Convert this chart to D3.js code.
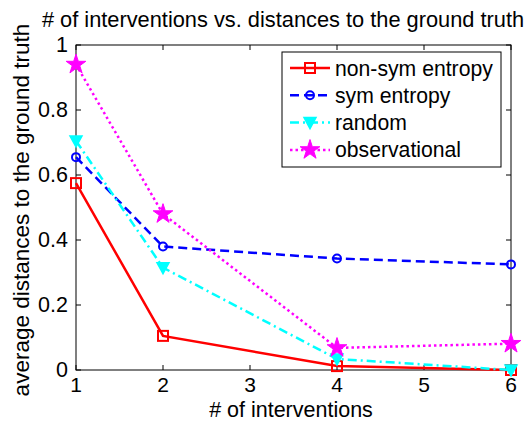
<!DOCTYPE html>
<html>
<head>
<script src="https://d3js.org/d3.v7.min.js"></script>
<style>
  body { margin: 0; background: #fff; }
  text { font-family: "Liberation Sans", Arial, sans-serif; fill: #000; }
</style>
</head>
<body>
<svg width="531" height="421"></svg>
<script>
// chart values
const xs = [1, 2, 4, 6];
const nonSym = [0.575, 0.105, 0.012, 0.0];
const symEnt = [0.655, 0.38, 0.343, 0.325];
const randomV = [0.705, 0.315, 0.034, 0.0];
const observ = [0.94, 0.48, 0.068, 0.081];
const xTicks = [1, 2, 3, 4, 5, 6];
const yTicks = [0, 0.2, 0.4, 0.6, 0.8, 1];

const series = [
  {name: "non-sym entropy", vals: nonSym, color: "#ff0000", dash: null, marker: "square"},
  {name: "sym entropy", vals: symEnt, color: "#0000ff", dash: "9,5", marker: "circle"},
  {name: "random", vals: randomV, color: "#00ffff", dash: "9,4,2,4", marker: "tri"},
  {name: "observational", vals: observ, color: "#ff00ff", dash: "2.5,3", marker: "star"}
];

const svg = d3.select("svg");
const pLeft = 76, pRight = 511, pTop = 45, pBottom = 370;

const x = d3.scaleLinear().domain([1, 6]).range([pLeft, pRight]);
const y = d3.scaleLinear().domain([0, 1]).range([pBottom, pTop]);

// axes box
svg.append("rect")
  .attr("x", pLeft).attr("y", pTop)
  .attr("width", pRight - pLeft).attr("height", pBottom - pTop)
  .attr("fill", "none").attr("stroke", "#000").attr("stroke-width", 1);

// inward ticks on all four sides
const tl = 5;
xTicks.forEach(t => {
  svg.append("line").attr("x1", x(t)).attr("x2", x(t)).attr("y1", pBottom).attr("y2", pBottom - tl).attr("stroke", "#000");
  svg.append("line").attr("x1", x(t)).attr("x2", x(t)).attr("y1", pTop).attr("y2", pTop + tl).attr("stroke", "#000");
  svg.append("text").attr("x", x(t)).attr("y", pBottom + 22)
    .attr("text-anchor", "middle").attr("font-size", 21).text(t);
});
yTicks.forEach(t => {
  svg.append("line").attr("x1", pLeft).attr("x2", pLeft + tl).attr("y1", y(t)).attr("y2", y(t)).attr("stroke", "#000");
  svg.append("line").attr("x1", pRight).attr("x2", pRight - tl).attr("y1", y(t)).attr("y2", y(t)).attr("stroke", "#000");
  svg.append("text").attr("x", pLeft - 8).attr("y", y(t) + 7)
    .attr("text-anchor", "end").attr("font-size", 21.5).text(t);
});

// titles
svg.append("text").attr("x", 283).attr("y", 27).attr("text-anchor", "middle")
  .attr("font-size", 21.8).text("# of interventions vs. distances to the ground truth");
svg.append("text").attr("x", 291).attr("y", 417).attr("text-anchor", "middle")
  .attr("font-size", 21.5).text("# of interventions");
svg.append("text").attr("transform", "translate(29,210) rotate(-90)")
  .attr("text-anchor", "middle").attr("font-size", 22.5).text("average distances to the ground truth");

function drawMarker(g, type, cx, cy, color) {
  if (type === "square") {
    g.append("rect").attr("x", cx - 5).attr("y", cy - 5).attr("width", 10).attr("height", 10)
      .attr("fill", "none").attr("stroke", color).attr("stroke-width", 2);
  } else if (type === "circle") {
    g.append("circle").attr("cx", cx).attr("cy", cy).attr("r", 4)
      .attr("fill", "none").attr("stroke", color).attr("stroke-width", 2);
  } else if (type === "tri") {
    g.append("path").attr("d", `M${cx - 6},${cy - 5}L${cx + 6},${cy - 5}L${cx},${cy + 6}Z`)
      .attr("fill", color).attr("stroke", color).attr("stroke-width", 1.5);
  } else {
    g.append("path").attr("d", d3.symbol().type(d3.symbolStar).size(120)())
      .attr("transform", `translate(${cx},${cy})`)
      .attr("fill", color).attr("stroke", color).attr("stroke-width", 1);
  }
}

const line = d3.line().x(d => x(d[0])).y(d => y(d[1]));
const plot = svg.append("g");
series.forEach(s => {
  const pts = xs.map((v, i) => [v, s.vals[i]]);
  plot.append("path").datum(pts).attr("d", line)
    .attr("fill", "none").attr("stroke", s.color).attr("stroke-width", 2.5)
    .attr("stroke-dasharray", s.dash);
  pts.forEach(p => drawMarker(plot, s.marker, x(p[0]), y(p[1]), s.color));
});

// legend
const lg = svg.append("g");
lg.append("rect").attr("x", 282).attr("y", 52).attr("width", 219).attr("height", 115)
  .attr("fill", "#fff").attr("stroke", "#000");
series.forEach((s, i) => {
  const ly = 68 + i * 27.3;
  lg.append("line").attr("x1", 290).attr("x2", 330).attr("y1", ly).attr("y2", ly)
    .attr("stroke", s.color).attr("stroke-width", 2.5).attr("stroke-dasharray", s.dash);
  drawMarker(lg, s.marker, 310, ly, s.color);
  lg.append("text").attr("x", 335).attr("y", ly + 7.5).attr("font-size", 21.2).text(s.name);
});
</script>
</body>
</html>
